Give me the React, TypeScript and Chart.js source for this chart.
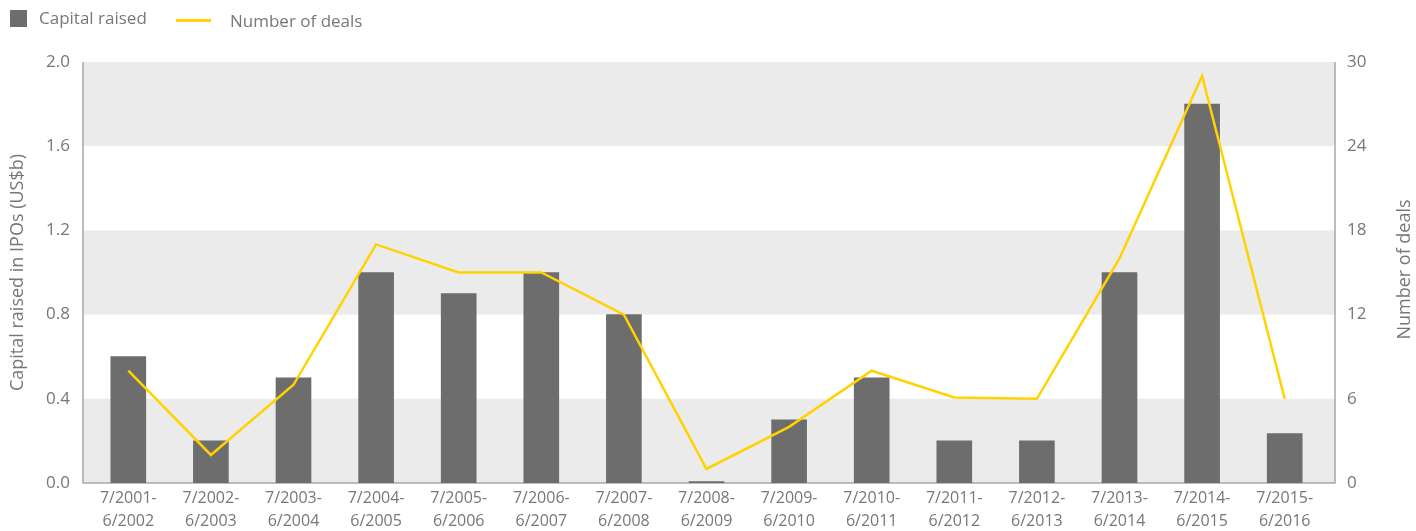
import React, { useEffect, useRef } from "react";
import { Chart, registerables } from "chart.js";

Chart.register(...registerables);

// Fiscal-year periods (July to June)
const periods: string[][] = [
  ["7/2001-", "6/2002"],
  ["7/2002-", "6/2003"],
  ["7/2003-", "6/2004"],
  ["7/2004-", "6/2005"],
  ["7/2005-", "6/2006"],
  ["7/2006-", "6/2007"],
  ["7/2007-", "6/2008"],
  ["7/2008-", "6/2009"],
  ["7/2009-", "6/2010"],
  ["7/2010-", "6/2011"],
  ["7/2011-", "6/2012"],
  ["7/2012-", "6/2013"],
  ["7/2013-", "6/2014"],
  ["7/2014-", "6/2015"],
  ["7/2015-", "6/2016"],
];

// Capital raised in IPOs, US$ billions
const capitalRaised: number[] = [
  0.6, 0.2, 0.5, 1.0, 0.9, 1.0, 0.8, 0.007, 0.3, 0.5, 0.2, 0.2, 1.0, 1.8, 0.235,
];

// Number of IPO deals
const dealCount: number[] = [8, 2, 7, 17, 15, 15, 12, 1, 4, 8, 6.1, 6, 16, 29, 6];

const capitalTicks: number[] = [0, 0.4, 0.8, 1.2, 1.6, 2.0];
const dealTicks: number[] = [0, 6, 12, 18, 24, 30];

// Alternating shaded bands on the capital axis
const shadedBands: [number, number][] = [
  [0, 0.4],
  [0.8, 1.2],
  [1.6, 2.0],
];

const FONT = "'Open Sans', 'Noto Sans', sans-serif";
const TEXT = "#777777";
const BAR = "#6d6d6d";
const LINE = "#FFD200";
const BAND = "#ebebeb";
const AXIS = "#a8a8a8";
const EXTEND_LEFT = 4;
const EXTEND_RIGHT = 9;
const RIGHT_TITLE = "Number of deals";

const backdropPlugin = {
  id: "backdrop",
  beforeDatasetsDraw(chart: any) {
    const { ctx, chartArea, scales } = chart;
    const y = scales.y;
    const x0 = chartArea.left - EXTEND_LEFT;
    const x1 = chartArea.right + EXTEND_RIGHT;
    ctx.save();
    ctx.fillStyle = BAND;
    for (const [lo, hi] of shadedBands) {
      const top = y.getPixelForValue(hi);
      const bot = y.getPixelForValue(lo);
      ctx.fillRect(x0, top, x1 - x0, bot - top);
    }
    ctx.strokeStyle = AXIS;
    ctx.lineWidth = 1.5;
    ctx.beginPath();
    ctx.moveTo(x0, chartArea.top);
    ctx.lineTo(x0, chartArea.bottom);
    ctx.lineTo(x1, chartArea.bottom);
    ctx.lineTo(x1, chartArea.top);
    ctx.stroke();
    ctx.restore();
  },
  afterDraw(chart: any) {
    // Right-hand axis title, reading bottom to top like the left one
    const { ctx, chartArea, width } = chart;
    ctx.save();
    ctx.translate(width - 11, (chartArea.top + chartArea.bottom) / 2 - 3);
    ctx.rotate(-Math.PI / 2);
    ctx.font = `18px ${FONT}`;
    ctx.fillStyle = TEXT;
    ctx.textAlign = "center";
    ctx.textBaseline = "middle";
    ctx.fillText(RIGHT_TITLE, 0, 0);
    ctx.restore();
  },
};

export default function App() {
  const canvasRef = useRef<HTMLCanvasElement | null>(null);

  useEffect(() => {
    if (!canvasRef.current) return;
    const chart = new Chart(canvasRef.current, {
      type: "bar",
      data: {
        labels: periods,
        datasets: [
          {
            type: "line",
            label: "Number of deals",
            data: dealCount,
            yAxisID: "y2",
            borderColor: LINE,
            borderWidth: 2.5,
            pointRadius: 0,
            tension: 0,
            order: 0,
          },
          {
            type: "bar",
            label: "Capital raised",
            data: capitalRaised,
            yAxisID: "y",
            backgroundColor: BAR,
            barThickness: 35,
            order: 1,
          },
        ],
      },
      options: {
        animation: false,
        responsive: false,
        layout: { padding: { top: 62, left: 0, right: 0, bottom: 0 } },
        plugins: { legend: { display: false }, tooltip: { enabled: false } },
        scales: {
          x: {
            offset: true,
            grid: { display: false, drawTicks: false },
            border: { display: false },
            ticks: {
              color: TEXT,
              font: { family: FONT, size: 16, lineHeight: 1.45 },
              padding: 4,
              maxRotation: 0,
              autoSkip: false,
            },
            afterFit(scale: any) {
              scale.height = 48;
            },
          },
          y: {
            position: "left",
            min: 0,
            max: 2,
            afterBuildTicks(scale: any) {
              scale.ticks = capitalTicks.map((v) => ({ value: v }));
            },
            grid: { display: false, drawTicks: false },
            border: { display: false },
            ticks: {
              color: TEXT,
              font: { family: FONT, size: 17 },
              padding: 17,
              callback: (v: any) => Number(v).toFixed(1),
            },
            title: {
              display: true,
              text: "Capital raised in IPOs (US$b)",
              color: TEXT,
              font: { family: FONT, size: 18 },
              padding: { top: 7, bottom: 0 },
            },
            afterFit(scale: any) {
              scale.width = 87;
            },
          },
          y2: {
            position: "right",
            min: 0,
            max: 30,
            afterBuildTicks(scale: any) {
              scale.ticks = dealTicks.map((v) => ({ value: v }));
            },
            grid: { display: false, drawTicks: false },
            border: { display: false },
            ticks: {
              color: TEXT,
              font: { family: FONT, size: 17 },
              padding: 21,
            },
            afterFit(scale: any) {
              scale.width = 90;
            },
          },
        },
      },
      plugins: [backdropPlugin],
    });
    return () => chart.destroy();
  }, []);

  const text: React.CSSProperties = {
    position: "absolute",
    fontFamily: FONT,
    fontSize: 17,
    color: TEXT,
    lineHeight: "20px",
    whiteSpace: "nowrap",
  };

  return (
    <div
      style={{
        position: "fixed",
        left: 0,
        top: 0,
        width: 1416,
        height: 531,
        background: "#ffffff",
        overflow: "hidden",
      }}
    >
      <canvas
        ref={canvasRef}
        width={1416}
        height={531}
        style={{ position: "absolute", left: 0, top: 0, width: 1416, height: 531 }}
      />
      <div style={{ position: "absolute", left: 10, top: 10, width: 17, height: 17, background: BAR }} />
      <span style={{ ...text, left: 39, top: 8 }}>Capital raised</span>
      <div style={{ position: "absolute", left: 176, top: 19, width: 35, height: 2.5, background: LINE }} />
      <span style={{ ...text, left: 230, top: 11 }}>Number of deals</span>
    </div>
  );
}
